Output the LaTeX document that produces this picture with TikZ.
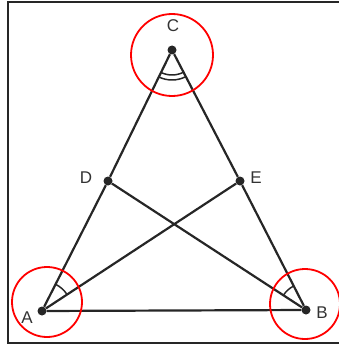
\documentclass[tikz,border=0pt]{standalone}
\usepackage{fontspec}
\setmainfont{Liberation Sans}
\usetikzlibrary{angles}

\begin{document}
\begin{tikzpicture}[
x=1pt, y=-1pt,
pt/.style={circle,fill=black!85,inner sep=0pt,minimum size=9pt},
lab/.style={font=\fontsize{17}{20}\selectfont,text=black!80,inner sep=0pt},
side/.style={line width=2.2pt,black!85},
highlight/.style={line width=1.8pt,red},
anglemark/.style={draw,line width=1.5pt,black!85,angle radius=#1},
frame/.style={line width=2pt,black!85} ]

\useasboundingbox (0,0) rectangle (339,345);

\draw[frame] (339,2) -- (8,2) -- (8,343) -- (339,343);

\node[pt] (A) at (42,311) {};

\node[pt] (B) at (306,310) {};

\node[pt] (C) at (172,50) {};

\node[pt] (D) at (108,181) {};

\node[pt] (E) at (240,181) {};

\node[lab] (labA) at (27,318) {A};

\node[lab] (labB) at (322,313) {B};

\node[lab] (labC) at (173,26) {C};

\node[lab] (labD) at (86,178) {D};

\node[lab] (labE) at (256,178) {E};

\draw[side] (A) -- (D) -- (C) -- (E) -- (B) -- (A);

\draw[side] (A) -- (E);

\draw[side] (B) -- (D);

\pic[anglemark=30pt] {angle=E--A--C};

\pic[anglemark=27pt] {angle=C--B--D};

\pic[anglemark=25pt] {angle=A--C--B};

\pic[anglemark=30pt] {angle=A--C--B};

\draw[highlight] (172,55) circle[radius=41];

\draw[highlight] (47,302) circle[radius=35];

\draw[highlight] (305,304) circle[radius=35];

\end{tikzpicture}
\end{document}
